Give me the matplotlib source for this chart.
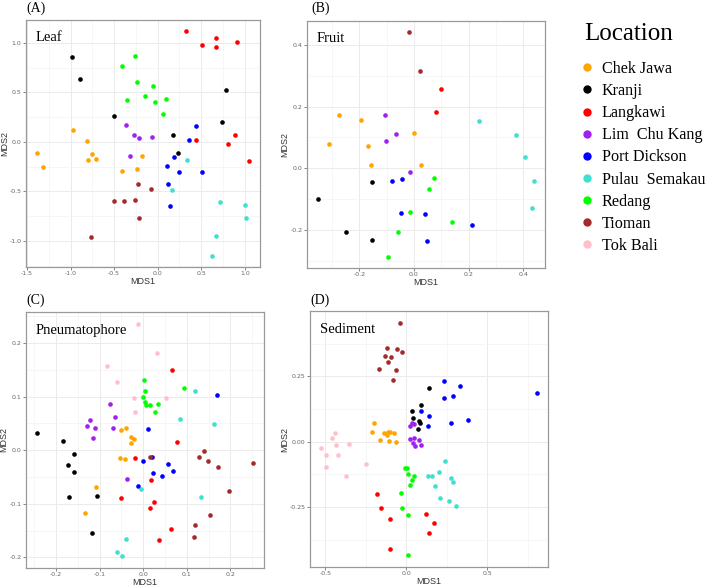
import matplotlib

matplotlib.use("Agg")
import matplotlib.pyplot as plt
from matplotlib.lines import Line2D
import numpy as np
import pandas as pd

# location names and colours (R colour names used by ggplot)
locations = ["Chek Jawa", "Kranji", "Langkawi", "Lim  Chu Kang", "Port Dickson",
             "Pulau  Semakau", "Redang", "Tioman", "Tok Bali"]
codes = ["CJ", "KR", "LK", "LCK", "PD", "PS", "RD", "TI", "TB"]
colors = ["#FFA500", "#000000", "#FF0000", "#A020F0", "#0000FF",
          "#40E0D0", "#00FF00", "#A52A2A", "#FFC0CB"]

# ---- (A) Leaf ----
leaf_site = (["CJ"] * 10 + ["KR"] * 7 + ["LK"] * 9 + ["LCK"] * 5 + ["PD"] * 8
             + ["PS"] * 7 + ["RD"] * 9 + ["TI"] * 7)
leaf_x = [-0.967, -0.815, -1.39, -1.314, -0.754, -0.796, -0.709, -0.183, -0.404, -0.24,
          -0.982, -0.887, -0.507, 0.787, 0.738, 0.174, 0.231,
          0.323, 0.665, 0.509, 0.669, 0.909, 0.437, 0.893, 0.806, 1.053,
          -0.366, -0.267, -0.21, -0.069, -0.313,
          0.444, 0.357, 0.182, 0.110, 0.25, 0.509, 0.117, 0.136,
          0.338, 0.159, 0.718, 1.0, 1.015, 0.665, 0.627,
          -0.263, -0.412, -0.237, -0.054, -0.149, -0.351, -0.031, 0.091, 0.064,
          -0.225, -0.073, -0.499, -0.385, -0.263, -0.21, -0.769]
leaf_y = [0.122, 0.005, -0.112, -0.256, -0.119, -0.179, -0.172, -0.146, -0.296, -0.273,
          0.859, 0.638, 0.26, 0.528, 0.196, 0.072, -0.116,
          1.117, 1.05, 0.973, 0.96, 1.007, 0.022, 0.069, -0.022, -0.189,
          0.173, 0.072, 0.035, 0.045, -0.142,
          0.156, 0.022, -0.149, -0.24, -0.303, -0.307, -0.43, -0.645,
          -0.179, -0.484, -0.605, -0.638, -0.772, -0.953, -1.151,
          0.866, 0.765, 0.608, 0.568, 0.464, 0.427, 0.40, 0.437, 0.283,
          -0.427, -0.481, -0.598, -0.595, -0.585, -0.772, -0.96]

# ---- (B) Fruit ----
fruit_site = (["CJ"] * 7 + ["KR"] * 4 + ["LK"] * 2 + ["LCK"] * 4 + ["PD"] * 6
              + ["PS"] * 5 + ["RD"] * 6 + ["TI"] * 2)
fruit_x = [-0.275, -0.194, -0.312, -0.167, 0.0, -0.159, 0.027,
           -0.154, -0.352, -0.248, -0.154,
           0.098, 0.079,
           -0.107, -0.064, -0.102, -0.013,
           -0.08, -0.044, -0.048, 0.04, 0.047, 0.214,
           0.238, 0.373, 0.406, 0.44, 0.432,
           0.075, 0.056, -0.015, 0.141, -0.059, -0.095,
           -0.019, 0.022]
fruit_y = [0.174, 0.158, 0.080, 0.071, 0.113, 0.011, 0.01,
           -0.043, -0.101, -0.208, -0.233,
           0.258, 0.183,
           0.172, 0.111, 0.087, -0.012,
           -0.041, -0.034, -0.144, -0.149, -0.237, -0.183,
           0.154, 0.108, 0.035, -0.042, -0.129,
           -0.032, -0.068, -0.142, -0.173, -0.206, -0.287,
           0.441, 0.316]

# ---- (C) Pneumatophore ----
pneu_site = (["CJ"] * 9 + ["KR"] * 8 + ["LK"] * 9 + ["LCK"] * 8 + ["PD"] * 9
             + ["PS"] * 8 + ["RD"] * 9 + ["TI"] * 10 + ["TB"] * 7)
pneu_x = [-0.04, -0.05, -0.027, -0.021, -0.028, -0.054, -0.042, -0.108, -0.133,
          -0.244, -0.185, -0.159, -0.173, -0.159, -0.17, -0.105, -0.118,
          0.066, 0.078, -0.018, 0.017, -0.052, 0.024, 0.015, 0.063, 0.037,
          -0.076, -0.064, -0.121, -0.128, -0.11, -0.069, -0.116, -0.037,
          0.169, 0.011, 0.021, -0.001, 0.056, 0.023, 0.044, 0.068, -0.013,
          0.119, 0.084, 0.163, 0.133, -0.006, -0.04, -0.061, -0.049,
          0.001, 0.005, -0.001, 0.005, 0.006, 0.016, 0.034, 0.026, 0.093,
          0.016, 0.14, 0.127, 0.148, 0.171, 0.252, 0.197, 0.153, 0.118, 0.116,
          -0.012, 0.031, -0.082, -0.061, -0.021, 0.053, -0.018]
pneu_y = [0.041, 0.037, 0.024, 0.02, 0.014, -0.015, -0.017, -0.068, -0.118,
          0.032, 0.017, -0.007, -0.028, -0.041, -0.087, -0.085, -0.154,
          0.150, 0.015, -0.015, -0.056, -0.090, -0.096, -0.108, -0.147, -0.167,
          0.086, 0.062, 0.056, 0.045, 0.041, 0.041, 0.022, -0.054,
          0.103, 0.04, -0.012, -0.02, -0.025, -0.043, -0.049, -0.038, -0.066,
          0.111, 0.059, 0.049, -0.087, -0.073, -0.166, -0.19, -0.198,
          0.131, 0.111, 0.1, 0.09, 0.084, 0.084, 0.087, 0.072, 0.116,
          -0.012, -0.001, -0.013, -0.021, -0.032, -0.023, -0.076, -0.12, -0.139, -0.162,
          0.236, 0.181, 0.157, 0.127, 0.098, 0.098, 0.071]

# ---- (D) Sediment ----
sed_site = (["CJ"] * 10 + ["KR"] * 7 + ["LK"] * 7 + ["LCK"] * 9 + ["PD"] * 10
            + ["PS"] * 10 + ["RD"] * 10 + ["TI"] * 10 + ["TB"] * 10)
sed_x = [-0.198, -0.21, -0.138, -0.113, -0.097, -0.076, -0.117, -0.163, -0.105, -0.064,
         0.138, 0.09, 0.039, 0.045, 0.08, 0.088, 0.072,
         -0.183, -0.156, -0.099, 0.121, 0.171, 0.142, -0.099,
         0.033, 0.049, 0.022, 0.022, 0.049, 0.078, 0.043, 0.09, 0.056,
         0.232, 0.333, 0.29, 0.236, 0.094, 0.138, 0.38, 0.275, 0.136, 0.809,
         0.237, 0.2, 0.136, 0.16, 0.274, 0.292, 0.177, 0.21, 0.263, 0.305,
         -0.01, 0.008, 0.01, 0.051, 0.039, 0.021, -0.031, -0.023, 0.014, 0.012,
         -0.037, -0.121, -0.058, -0.027, -0.13, -0.093, -0.111, -0.165, -0.062, -0.082,
         -0.44, -0.461, -0.434, -0.354, -0.527, -0.494, -0.418, -0.494, -0.251, -0.374]
sed_y = [0.072, 0.039, 0.034, 0.038, 0.038, 0.032, 0.025, 0.005, 0.001, 0.0,
         0.204, 0.142, 0.118, 0.09, 0.08, 0.072, 0.048,
         -0.2, -0.255, -0.294, -0.277, -0.31, -0.35, -0.41,
         0.07, 0.069, 0.059, 0.011, 0.014, 0.006, -0.004, -0.011, -0.018,
         0.234, 0.215, 0.177, 0.169, 0.118, 0.098, 0.083, 0.072, 0.061, 0.187,
         -0.072, -0.114, -0.133, -0.133, -0.14, -0.154, -0.169, -0.214, -0.226, -0.247,
         -0.1, -0.1, -0.122, -0.133, -0.148, -0.164, -0.195, -0.253, -0.279, -0.435,
         0.456, 0.357, 0.354, 0.343, 0.330, 0.324, 0.305, 0.278, 0.274, 0.235,
         0.033, 0.015, -0.013, -0.009, -0.023, -0.049, -0.049, -0.096, -0.086, -0.133]

# tick positions / labels
leaf_xticks = [-1.5, -1.0, -0.5, 0.0, 0.5, 1.0]
leaf_yticks = [-1.0, -0.5, 0.0, 0.5, 1.0]
fruit_xticks = [-0.2, 0.0, 0.2, 0.4]
fruit_yticks = [-0.2, 0.0, 0.2, 0.4]
pneu_xticks = [-0.2, -0.1, 0.0, 0.1, 0.2]
pneu_yticks = [-0.2, -0.1, 0.0, 0.1, 0.2]
sed_xticks = [-0.5, 0.0, 0.5]
sed_yticks = [-0.25, 0.0, 0.25]

W, H = 709, 586
SERIF = "Liberation Serif"
SANS = "Liberation Sans"
color_of = dict(zip(codes, colors))


def px_axes(fig, left, top, right, bottom):
    return fig.add_axes([left / W, 1 - bottom / H, (right - left) / W, (bottom - top) / H])


def panel(ax, site, x, y, xticks, yticks, ydec, title):
    df = pd.DataFrame({"site": site, "x": x, "y": y})
    for code in codes:
        sub = df[df["site"] == code]
        if len(sub):
            ax.scatter(sub["x"], sub["y"], s=11, color=color_of[code], linewidths=0, zorder=3)
    ax.set_xticks(xticks)
    ax.set_xticklabels([f"{t:.1f}" for t in xticks])
    ax.set_yticks(yticks)
    ax.set_yticklabels([f"{t:.{ydec}f}" for t in yticks])
    xs = np.diff(xticks)[0] / 2
    ys = np.diff(yticks)[0] / 2
    ax.set_xticks(np.arange(xticks[0] - 4 * xs, xticks[-1] + 4 * xs, xs), minor=True)
    ax.set_yticks(np.arange(yticks[0] - 4 * ys, yticks[-1] + 4 * ys, ys), minor=True)
    # ggplot-like 5% expansion (set after ticks so the ticks do not widen the view)
    xr = df["x"].max() - df["x"].min()
    yr = df["y"].max() - df["y"].min()
    ax.set_xlim(df["x"].min() - 0.05 * xr, df["x"].max() + 0.05 * xr)
    ax.set_ylim(df["y"].min() - 0.05 * yr, df["y"].max() + 0.05 * yr)
    ax.grid(True, which="major", color="#EBEBEB", lw=0.7, zorder=0)
    ax.grid(True, which="minor", color="#F3F3F3", lw=0.5, zorder=0)
    ax.set_axisbelow(True)
    ax.tick_params(which="major", length=2, width=0.5, color="#555555",
                   labelsize=4.5, labelcolor="#666666", pad=1.2)
    ax.tick_params(which="minor", length=0)
    for sp in ax.spines.values():
        sp.set_color("#999999")
        sp.set_linewidth(0.9)
    ax.set_xlabel("MDS1", fontsize=6.5, family=SANS, color="#333333", labelpad=0.5)
    ax.set_ylabel("MDS2", fontsize=6.5, family=SANS, color="#333333", labelpad=0.5)
    ax.text(0.04, 0.955, title, transform=ax.transAxes, family=SERIF, fontsize=10.5,
            va="top", ha="left")


fig = plt.figure(figsize=(W / 100, H / 100), dpi=100)

axA = px_axes(fig, 26, 20, 260, 267)
axB = px_axes(fig, 307, 21, 545, 268)
axC = px_axes(fig, 26, 312, 264, 568)
axD = px_axes(fig, 310, 311, 548, 567)

panel(axA, leaf_site, leaf_x, leaf_y, leaf_xticks, leaf_yticks, 1, "Leaf")
panel(axB, fruit_site, fruit_x, fruit_y, fruit_xticks, fruit_yticks, 1, "Fruit")
panel(axC, pneu_site, pneu_x, pneu_y, pneu_xticks, pneu_yticks, 1, "Pneumatophore")
panel(axD, sed_site, sed_x, sed_y, sed_xticks, sed_yticks, 2, "Sediment")

for lab, (px, py) in zip(["(A)", "(B)", "(C)", "(D)"],
                         [(26, 8), (311, 8), (26, 300), (310, 300)]):
    fig.text(px / W, 1 - py / H, lab, family=SERIF, fontsize=10, va="center", ha="left")

# legend
fig.text(584 / W, 1 - 34 / H, "Location", family=SERIF, fontsize=18, va="center", ha="left")
handles = [Line2D([], [], marker="o", ls="", markersize=6, markerfacecolor=c,
                  markeredgewidth=0, label=l) for l, c in zip(locations, colors)]
fig.legend(handles=handles, loc="upper left", bbox_to_anchor=(579 / W, 1 - 61 / H),
           frameon=False, prop={"family": SERIF, "size": 11.6}, labelspacing=0.38,
           handletextpad=0.4, handlelength=1.0, borderaxespad=0, borderpad=0)

fig.savefig("out.png", dpi=100)
